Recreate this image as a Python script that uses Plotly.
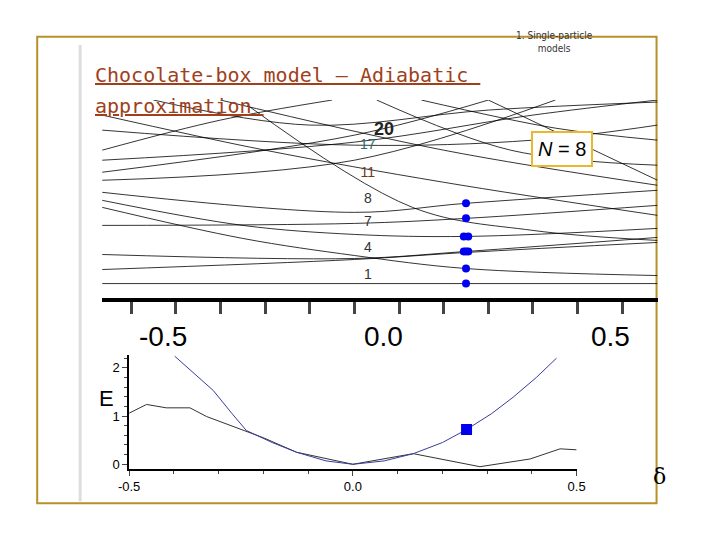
import plotly.graph_objects as go

# top panel: level lines, each read as a few (x, E) points
top_lines = [
    ([-0.565, 0.679], [17, 17]),
    ([-0.565, -0.25, 0.0, 0.25, 0.679], [93, 62, 45, 32, 25]),
    ([-0.565, 0.0, 0.25, 0.679], [31, 41, 48, 58]),
    ([-0.565, 0.0, 0.25, 0.679], [46, 42, 49, 63]),
    ([-0.565, -0.25, 0.0, 0.25, 0.679], [100, 75, 66, 64, 72]),
    ([-0.565, 0.0, 0.25, 0.679], [75, 77, 82, 95]),
    ([-0.565, 0.0, 0.25, 0.679], [108, 88, 97, 110]),
    ([-0.24, 0.13, 0.4, 0.679], [195, 93, 70, 60]),
    ([-0.565, 0.0, 0.4, 0.679], [140, 158, 185, 200]),
    ([-0.565, 0.0, 0.4, 0.679], [170, 155, 160, 175]),
    ([-0.565, -0.2, 0.2, 0.679], [185, 150, 118, 85]),
    ([-0.3, 0.2, 0.679], [200, 150, 115]),
    ([-0.565, 0.0, 0.45], [120, 140, 200]),
    ([0.05, 0.35, 0.679], [200, 150, 135]),
    ([-0.565, 0.0, 0.3], [128, 165, 200]),
    ([0.15, 0.45, 0.679], [200, 172, 160]),
    ([-0.45, -0.1, 0.3, 0.679], [200, 175, 190, 198]),
    ([0.3, 0.679], [200, 120]),
    ([-0.565, -0.3, -0.05], [150, 180, 200]),
]
dot_x = [0.25, 0.25, 0.25, 0.255, 0.245, 0.255, 0.245, 0.25, 0.25]
dot_e = [17, 32, 49, 49, 49, 64, 64, 82, 97]
level_labels = ["1", "4", "7", "8", "11", "17"]
level_colors = ["#333", "#333", "#333", "#333", "#6a3a1a", "#2a6a6a"]
level_e = [25, 52, 78, 101, 127, 155]

# bottom panel
black_x = [-0.5, -0.461, -0.417, -0.364, -0.327, -0.238, -0.2, -0.126, 0.0, 0.135, 0.284, 0.396, 0.463, 0.5]
black_y = [1.06, 1.24, 1.17, 1.17, 0.99, 0.69, 0.55, 0.25, 0.0, 0.22, -0.05, 0.11, 0.32, 0.3]
blue_x = [-0.398, -0.35, -0.312, -0.27, -0.238, -0.18, -0.126, -0.06, 0.0, 0.07, 0.135, 0.2, 0.254, 0.31, 0.358, 0.41, 0.455]
blue_y = [2.24, 1.85, 1.53, 1.05, 0.7, 0.45, 0.25, 0.07, 0.0, 0.07, 0.22, 0.45, 0.72, 1.05, 1.39, 1.8, 2.2]
sq_x, sq_y = [0.254], [0.72]

W, H, M = 704, 524, 8


def px(x):
    return ((x - 11) / 0.9726 - M) / W


def py(y):
    return 1 - ((y - 0.3) / 0.9914 - M) / H


fig = go.Figure()
for xs, es in top_lines:
    fig.add_trace(go.Scatter(x=xs, y=es, mode="lines", line=dict(color="black", width=0.8, shape="spline"),
                             xaxis="x", yaxis="y", showlegend=False, hoverinfo="skip"))
fig.add_trace(go.Scatter(x=dot_x, y=dot_e, mode="markers", marker=dict(color="#0000ee", size=8),
                         xaxis="x", yaxis="y", showlegend=False))
fig.add_trace(go.Scatter(x=[0.03] * len(level_e), y=level_e, mode="text", text=level_labels,
                         textfont=dict(size=14, color=level_colors, family="Arial"),
                         xaxis="x", yaxis="y", showlegend=False))
fig.add_trace(go.Scatter(x=black_x, y=black_y, mode="lines", line=dict(color="#333", width=1),
                         xaxis="x2", yaxis="y2", showlegend=False))
fig.add_trace(go.Scatter(x=blue_x, y=blue_y, mode="lines", line=dict(color="#3a3aa0", width=1),
                         xaxis="x2", yaxis="y2", showlegend=False))
fig.add_trace(go.Scatter(x=sq_x, y=sq_y, mode="markers", marker=dict(color="#0000ee", size=11, symbol="square"),
                         xaxis="x2", yaxis="y2", showlegend=False))

title_font = dict(size=20, family="DejaVu Sans Mono", color="#a0401a")
fig.update_layout(
    width=W, height=H, margin=dict(l=0, r=0, t=0, b=0),
    paper_bgcolor="white", plot_bgcolor="rgba(0,0,0,0)",
    xaxis=dict(domain=[px(102), px(658)], range=[-0.565, 0.679], showgrid=False, zeroline=False,
               showline=True, linecolor="black", linewidth=4, ticks="outside", ticklen=12, tickwidth=3,
               tick0=-0.5, dtick=0.1, showticklabels=False),
    yaxis=dict(domain=[py(297), py(100)], range=[3, 200], visible=False),
    xaxis2=dict(domain=[px(129), px(577)], range=[-0.5, 0.5], anchor="y2", showgrid=False, zeroline=False,
                showline=True, linecolor="black", linewidth=1.5, ticks="outside", ticklen=5,
                tickvals=[-0.5, 0.0, 0.5], ticktext=["-0.5", "0.0", "0.5"],
                minor=dict(dtick=0.1, ticks="outside", ticklen=3),
                tickfont=dict(size=13, family="Arial", color="black")),
    yaxis2=dict(domain=[py(468), py(354)], range=[-0.1, 2.27], anchor="x2", showgrid=False, zeroline=False,
                showline=True, linecolor="black", linewidth=1.5, ticks="outside", ticklen=5,
                tickvals=[0, 1, 2], minor=dict(dtick=0.2, ticks="outside", ticklen=3),
                tickfont=dict(size=13, family="Arial", color="black")),
    shapes=[
        dict(type="rect", xref="paper", yref="paper", x0=px(37), x1=px(657), y0=py(502), y1=py(37),
             line=dict(color="#b8902a", width=2), layer="below"),
        dict(type="line", xref="paper", yref="paper", x0=px(80), x1=px(80), y0=py(500), y1=py(45),
             line=dict(color="#dddddd", width=3), layer="below"),
    ],
    annotations=[
        dict(text="1. Single-particle<br>models", x=px(595), y=py(28), xref="paper", yref="paper",
             showarrow=False, font=dict(size=10, family="DejaVu Sans Condensed", color="#333")),
        dict(text="<u>Chocolate-box model – Adiabatic </u>", x=px(93), y=py(61),
             xref="paper", yref="paper", xanchor="left", showarrow=False, font=title_font),
        dict(text="<u>approximation </u>", x=px(93), y=py(92),
             xref="paper", yref="paper", xanchor="left", showarrow=False, font=title_font),
        dict(text="<i>N</i> = 8", x=px(593), y=py(131), xref="paper", yref="paper", showarrow=False,
             font=dict(size=20, family="Arial", color="black"), bgcolor="white",
             bordercolor="#e8b830", borderwidth=2, borderpad=5),
        dict(text="<b>20</b>", x=px(384), y=py(117), xref="paper", yref="paper", showarrow=False,
             font=dict(size=18, family="Arial", color="#222")),
        dict(text="-0.5", x=px(137), y=py(336), xref="paper", yref="paper", showarrow=False,
             font=dict(size=28, family="Arial", color="black")),
        dict(text="0.0", x=px(384), y=py(336), xref="paper", yref="paper", showarrow=False,
             font=dict(size=28, family="Arial", color="black")),
        dict(text="0.5", x=px(632), y=py(336), xref="paper", yref="paper", showarrow=False,
             font=dict(size=28, family="Arial", color="black")),
        dict(text="E", x=px(97), y=py(412), xref="paper", yref="paper", showarrow=False,
             font=dict(size=22, family="Arial", color="black")),
        dict(text="δ", x=px(668), y=py(490), xref="paper", yref="paper", showarrow=False,
             font=dict(size=22, family="DejaVu Serif", color="black")),
    ],
)
fig.write_html("out.html")
